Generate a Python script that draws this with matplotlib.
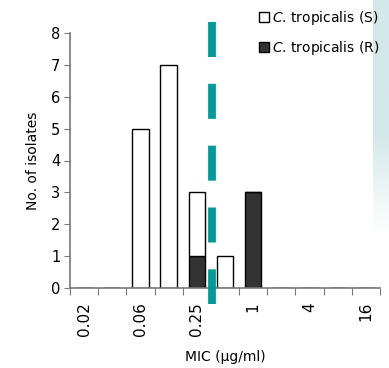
import matplotlib
matplotlib.use("Agg")
import matplotlib.pyplot as plt
from matplotlib.colors import LinearSegmentedColormap
from matplotlib.lines import Line2D
import numpy as np

# MIC categories (µg/ml) and isolate counts
mic_labels = ["0.02", "0.03", "0.06", "0.125", "0.25", "0.5", "1", "2", "4", "8", "16"]
resistant = [0, 0, 0, 0, 1, 0, 3, 0, 0, 0, 0]
susceptible = [0, 0, 5, 7, 2, 1, 0, 0, 0, 0, 0]
shown_ticks = ["0.02", "0.06", "0.25", "1", "4", "16"]
breakpoint_pos = 4.5

TEAL = "#009b9b"
DARK = "#333333"
AXIS_GREY = "#777777"

fig = plt.figure(figsize=(3.89, 3.68), dpi=100)

# light gradient strip on the right edge
gax = fig.add_axes([373 / 389, 1 - 235 / 368, 16 / 389, 235 / 368], zorder=0)
grad = np.concatenate([np.zeros(55), np.linspace(0, 1, 45)]).reshape(-1, 1)
gcmap = LinearSegmentedColormap.from_list("g", ["#d3e8e9", "#ffffff"])
gax.imshow(grad, aspect="auto", cmap=gcmap, extent=[0, 1, 0, 1])
gax.axis("off")

ax = fig.add_axes([70 / 389, 1 - 288 / 368, 310 / 389, 255 / 368], zorder=1)
ax.patch.set_alpha(0)

x = np.arange(len(mic_labels))
w = 0.58
ax.bar(x, resistant, width=w, color=DARK, edgecolor="black", linewidth=1.0, zorder=2)
ax.bar(x, susceptible, width=w, bottom=resistant, color="white",
       edgecolor="black", linewidth=1.0, zorder=2)

# breakpoint line, drawn top to bottom so the pattern starts with a dash
ax.plot([breakpoint_pos + 0.03] * 2, [8.35, -0.5], color=TEAL, linewidth=5.6,
        dashes=(4.5, 3.45), solid_capstyle="butt", dash_capstyle="butt",
        clip_on=False, zorder=3)

ax.set_xlim(-0.5, len(mic_labels) - 0.5)
ax.set_ylim(0, 8)
ax.set_yticks(range(0, 9))
ax.tick_params(axis="y", labelsize=10.5, length=4, color=AXIS_GREY, pad=3)

ax.set_xticks(np.arange(len(mic_labels) + 1) - 0.5, minor=False)
ax.set_xticklabels([])
ax.tick_params(axis="x", length=5, color=AXIS_GREY)
ax.set_xticks([mic_labels.index(t) for t in shown_ticks], minor=True)
ax.set_xticklabels(shown_ticks, minor=True, rotation=90, fontsize=11)
ax.tick_params(axis="x", which="minor", length=0, pad=10)

for s in ("top", "right"):
    ax.spines[s].set_visible(False)
for s in ("left", "bottom"):
    ax.spines[s].set_color(AXIS_GREY)
    ax.spines[s].set_linewidth(1.2)

ax.set_ylabel("No. of isolates", fontsize=10, labelpad=8)
ax.set_xlabel("MIC (µg/ml)", fontsize=10, labelpad=10)

handles = [
    Line2D([], [], linestyle="none", marker="s", markersize=6.5,
           markerfacecolor="white", markeredgecolor="black", markeredgewidth=1,
           label="$\\it{C}$. tropicalis (S)"),
    Line2D([], [], linestyle="none", marker="s", markersize=6.5,
           markerfacecolor=DARK, markeredgecolor="black", markeredgewidth=1,
           label="$\\it{C}$. tropicalis (R)"),
]
fig.legend(handles=handles, loc="upper right", bbox_to_anchor=(1.008, 1.01),
           frameon=False, fontsize=10, handlelength=0.6, handletextpad=0.3,
           labelspacing=0.85)

fig.savefig("out.png", dpi=100)
